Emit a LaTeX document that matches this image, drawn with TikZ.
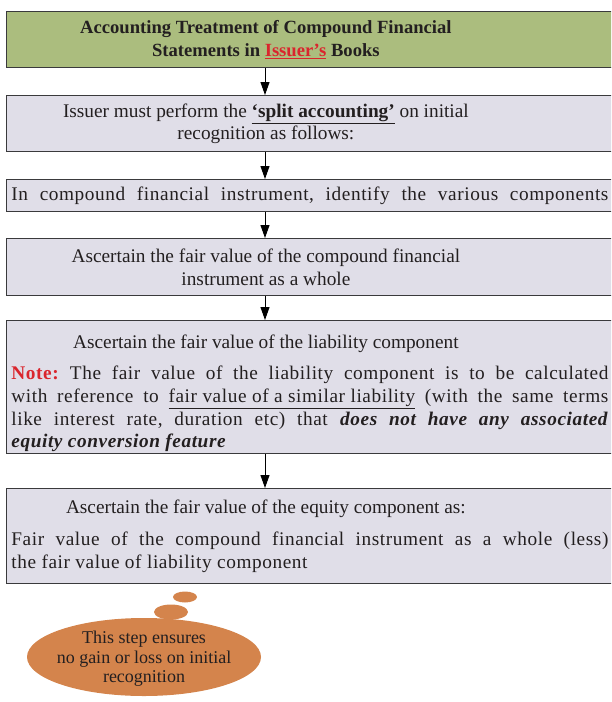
\documentclass[tikz,border=0pt]{standalone}
\usepackage{fontspec}
\setmainfont{Liberation Serif}
\usepackage{tikz}
\usetikzlibrary{arrows.meta,shapes.geometric}

\definecolor{titlegreen}{RGB}{171,189,126}
\definecolor{boxgray}{RGB}{224,222,232}
\definecolor{framegray}{RGB}{58,58,60}
\definecolor{notered}{RGB}{218,37,45}
\definecolor{bubbleorange}{RGB}{212,132,76}
\definecolor{inkdark}{RGB}{35,31,32}

% a line centred on the flow axis, not on the (cut off) box
\newcommand{\axisline}[1]{{\leftskip=0pt plus 1fil\rightskip=88pt plus 1fil\parfillskip=0pt\relax #1\par}}
% justified running text, set a little looser
\newcommand{\runtext}[1]{{\addfontfeature{LetterSpace=3}#1\par}}

\begin{document}
\frenchspacing
\begin{tikzpicture}[
  x=1pt, y=-1pt,
  stepbox/.style={draw=framegray, line width=1.3pt, fill=boxgray, anchor=north west,
    text width=597pt, align=justify, inner xsep=4.75pt, inner ysep=1pt, text=inkdark,
    font=\fontsize{19.3}{22.6}\selectfont,
    execute at begin node={\setlength{\parindent}{0pt}\hbadness=10000}},
  headbox/.style={stepbox, fill=titlegreen, font=\fontsize{18.6}{22.7}\selectfont\bfseries},
  flowarrow/.style={draw=black, line width=1pt, -{Triangle[length=13pt,width=9pt]}},
  puff/.style={ellipse, fill=bubbleorange, inner sep=0pt}
]
\useasboundingbox (0,0) rectangle (611,702);
\clip (0,0) rectangle (611,702);

\coordinate (ax) at (265,0);

\node[headbox, minimum height=56pt] (title) at (6,11) {%
  \axisline{Accounting Treatment of Compound Financial\linebreak
  Statements in \textcolor{notered}{\underline{Issuer’s}} Books}};

\node[stepbox, minimum height=56pt] (split) at (6,95) {%
  \axisline{Issuer must perform the \underline{\textbf{‘split accounting’}} on initial\linebreak
  recognition as follows:}};

\node[stepbox, minimum height=32pt] (ident) at (6,179) {%
  \runtext{\makebox[\hsize][s]{In compound financial instrument, identify the various components}}};

\node[stepbox, minimum height=57pt] (whole) at (6,238) {%
  \axisline{Ascertain the fair value of the compound financial\linebreak
  instrument as a whole}};

\node[stepbox, minimum height=133pt] (liab) at (6,320) {%
  \axisline{\rule{0pt}{26pt}Ascertain the fair value of the liability component}
  \vspace{9pt}
  \runtext{\textcolor{notered}{\textbf{Note:}} The fair value of the liability component is to be calculated\linebreak
  with reference to \underline{fair value of a similar liability} (with the same terms\linebreak
  like interest rate, duration etc) that \textbf{\textit{does not have any associated}}\linebreak
  \textbf{\textit{equity conversion feature}}}};

\node[stepbox, minimum height=95pt] (equity) at (6,488) {%
  \axisline{Ascertain the fair value of the equity component as:}
  \vspace{10pt}
  \runtext{Fair value of the compound financial instrument as a whole (less)\linebreak
  the fair value of liability component}};

% flow
\draw[flowarrow] (title.south -| ax) -- (split.north -| ax);
\draw[flowarrow] (split.south -| ax) -- (ident.north -| ax);
\draw[flowarrow] (ident.south -| ax) -- (whole.north -| ax);
\draw[flowarrow] (whole.south -| ax) -- (liab.north -| ax);
\draw[flowarrow] (liab.south -| ax) -- (equity.north -| ax);

% thought bubble
\node[puff, minimum width=24pt, minimum height=11pt] (puffsmall) at (185,597) {};
\node[puff, minimum width=34pt, minimum height=15pt] (puffmid) at (171,612) {};
\node[puff, minimum width=234pt, minimum height=78pt] (thought) at (144,657) {};
\node[align=center, text=inkdark, inner sep=0pt, text depth=0pt,
  font=\fontsize{18}{19.5}\selectfont] (thoughttext) at (thought.center)
  {This step ensures\\no gain or loss on initial\\recognition};
\end{tikzpicture}
\end{document}
